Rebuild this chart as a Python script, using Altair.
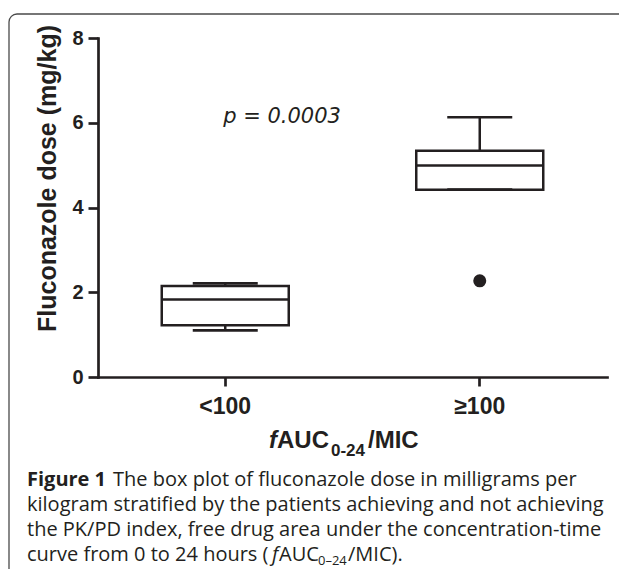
import altair as alt
import pandas as pd

# ---- data ----
groups = ["<100", "≥100"]
whisker_low = [1.10, 4.42]
quartile_1 = [1.22, 4.42]
medians = [1.83, 4.99]
quartile_3 = [2.15, 5.34]
whisker_high = [2.21, 6.13]
outlier_groups = ["≥100"]
outlier_values = [2.27]
y_ticks = [0, 2, 4, 6, 8]

caption_lines = [
    "The box plot of fluconazole dose in milligrams per",
    "kilogram stratified by the patients achieving and not achieving",
    "the PK/PD index, free drug area under the concentration-time",
    "curve from 0 to 24 hours (",
]

INK = "#231f20"
AXFONT = "Liberation Sans"
CAPFONT = "Open Sans"

box_df = pd.DataFrame({
    "group": groups,
    "low": whisker_low,
    "q1": quartile_1,
    "median": medians,
    "q3": quartile_3,
    "high": whisker_high,
})
out_df = pd.DataFrame({"group": outlier_groups, "value": outlier_values})

xscale = alt.Scale(domain=groups, paddingInner=0, paddingOuter=0)
yscale = alt.Scale(domain=[0, 8], nice=False)

xaxis = alt.Axis(
    title=None, labelAngle=0, labelFont=AXFONT, labelFontWeight="bold",
    labelFontSize=23, labelColor=INK, labelPadding=9, tickSize=9,
    tickWidth=2.7, tickColor=INK, domainWidth=2.7, domainColor=INK,
    domainCap="square", grid=False,
)
yaxis = alt.Axis(
    values=y_ticks, labelFont=AXFONT, labelFontWeight="bold", labelFontSize=20,
    labelColor=INK, labelPadding=5, tickSize=10, tickWidth=2.7, tickColor=INK,
    domainWidth=2.7, domainColor=INK, domainCap="square", grid=False,
    title="Fluconazole dose (mg/kg)", titleFont=AXFONT, titleFontWeight="bold",
    titleFontSize=25, titleColor=INK, titleX=-51, titleY=140, titleAngle=270,
    titleAlign="center", titleBaseline="middle",
)

X = alt.X("group:N", scale=xscale, axis=xaxis)
base = alt.Chart(box_df)

whiskers = base.mark_rule(color=INK, strokeWidth=2.5).encode(
    x=X, y=alt.Y("low:Q", scale=yscale, axis=yaxis), y2="high:Q")
boxes = base.mark_bar(size=127, fill="white", stroke=INK, strokeWidth=2.5).encode(
    x=X, y=alt.Y("q1:Q", scale=yscale), y2="q3:Q")
med = base.mark_tick(size=127, thickness=2.5, color=INK, opacity=1).encode(
    x=X, y=alt.Y("median:Q", scale=yscale))
cap_lo = base.mark_tick(size=65, thickness=2.7, color=INK, opacity=1).encode(
    x=X, y=alt.Y("low:Q", scale=yscale))
cap_hi = base.mark_tick(size=65, thickness=2.7, color=INK, opacity=1).encode(
    x=X, y=alt.Y("high:Q", scale=yscale))
outl = alt.Chart(out_df).mark_circle(size=170, color=INK, opacity=1).encode(
    x=X, y=alt.Y("value:Q", scale=yscale))

one = pd.DataFrame({"k": [0]})


def label(txt, x, y, size, font=CAPFONT, weight="normal", style="normal",
          align="left", baseline="alphabetic"):
    return alt.Chart(one).mark_text(
        font=font, fontSize=size, fontWeight=weight, fontStyle=style,
        color=INK, align=align, baseline=baseline,
    ).encode(x=alt.value(x), y=alt.value(y), text=alt.value(txt))


frame = alt.Chart(one).mark_rect(
    filled=False, stroke="#4a4a4a", strokeWidth=1.3, cornerRadius=8,
).encode(x=alt.value(-89), y=alt.value(-24), x2=alt.value(700), y2=alt.value(700))

texts = [
    label("p = 0.0003", 184, 85, 21, font="DejaVu Sans", style="italic", align="center"),
    # x-axis title fAUC0-24/MIC
    label("f", 171, 410, 24, font=AXFONT, weight="bold", style="italic"),
    label("AUC", 179, 410, 24, font=AXFONT, weight="bold"),
    label("0-24", 233, 418, 17, font=AXFONT, weight="bold"),
    label("/MIC", 270, 410, 24, font=AXFONT, weight="bold"),
    # caption
    label("Figure 1", -71, 448, 20, weight="bold"),
    label(caption_lines[0], 15, 448, 20),
    label(caption_lines[1], -71, 473, 20),
    label(caption_lines[2], -71, 498, 20),
    label(caption_lines[3], -71, 523, 20),
    label("f", 174, 523, 20, style="italic"),
    label("AUC", 181, 523, 20),
    label("0–24", 220, 527, 13),
    label("/MIC).", 250, 523, 20),
]

chart = alt.layer(
    frame, whiskers, boxes, med, cap_lo, cap_hi, outl, *texts
).properties(
    width=509, height=339,
    padding={"left": 90, "top": 30, "right": 12, "bottom": 192},
    autosize=alt.AutoSizeParams(type="none"),
    background="white",
).configure_view(strokeWidth=0, stroke="transparent")

chart.save("out.html", embed_options={"renderer": "svg", "actions": False})
